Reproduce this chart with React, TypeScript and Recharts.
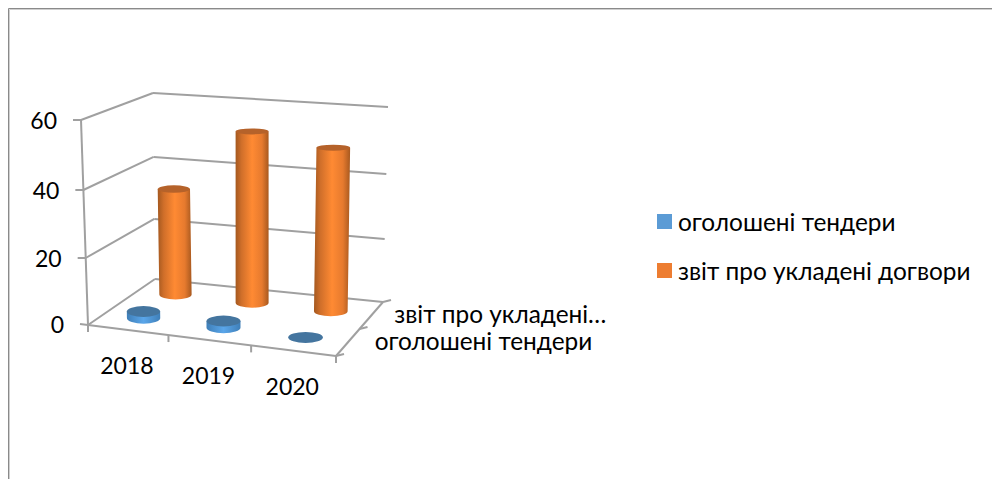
import React from "react";
import { BarChart, Bar, XAxis, YAxis, Legend, Customized } from "recharts";

const categories = ["2018", "2019", "2020"];
const tendersName = "оголошені тендери";
const reportsName = "звіт про укладені догвори";
const tenders = [2, 2, 0];
const reports = [33, 53, 50];
const valueTicks = [0, 20, 40, 60];
const depthLabels = ["оголошені тендери", "звіт про укладені…"];

const rows = categories.map((c, i) => ({ c, tenders: tenders[i], reports: reports[i] }));

const W = 992, H = 479;
const PLOT_L = 88, PLOT_R = 336, PLOT_T = 120, PLOT_B = 324;
const FONT = "Lato, 'Noto Sans', sans-serif";
const FS = 24.4;
const LINE = "#a0a0a0";

// floor corners of the 3D box
const FL = [88, 325], FR = [336, 356], BL = [155, 279], BR = [383, 302];
const lerp = (a: number, b: number, t: number) => a + (b - a) * t;
const floor = (u0: number, v: number) => {
  const u = u0 - 0.04 * u0 * (1 - u0);
  const fx = lerp(FL[0], FR[0], u), fy = lerp(FL[1], FR[1], u);
  const bx = lerp(BL[0], BR[0], u), by = lerp(BL[1], BR[1], u);
  return [lerp(fx, bx, v), lerp(fy, by, v)];
};
// vertical scale shrink with depth
const depthScale = (u: number, v: number) => lerp(1, lerp(0.912, 0.956, u), v);
const valuePx = (val: number) => ((PLOT_B - PLOT_T) * val) / 60;
const frontX = (val: number) => lerp(88, 81, val / 60);
const bow = (val: number) => (val / 60) * (1 - val / 60) * 9;

const Cylinder = (props: any) => {
  const { x, width, height, v, side, top, ry0 } = props;
  const u = (x + width / 2 - PLOT_L) / (PLOT_R - PLOT_L);
  const [cx, by] = floor(u, v);
  const h = (height || 0) * depthScale(u, v);
  const rx = (width / 2) * (1 + 0.06 * (u - 0.5) - 0.06 * (v - 0.25));
  const lean = (u - 0.5) * 0.046 * h;
  const tx = cx + lean, ty = by - h;
  const ryB = ry0, ryT = ry0 - 0.012 * h;
  const d = `M${cx - rx},${by} A${rx},${ryB} 0 0 0 ${cx + rx},${by} L${tx + rx},${ty} L${tx - rx},${ty} Z`;
  return (
    <g>
      {h > 0 && <path d={d} fill={`url(#${side})`} />}
      <ellipse cx={tx} cy={ty} rx={rx} ry={ryT} fill={top} />
    </g>
  );
};

const Walls = () => {
  const seg = (a: number[], b: number[], k: string) => (
    <line key={k} x1={a[0]} y1={a[1]} x2={b[0]} y2={b[1]} stroke={LINE} strokeWidth={2} />
  );
  const out: any[] = [];
  valueTicks.forEach((t) => {
    const dl = valuePx(t);
    const front = [frontX(t), PLOT_B + (t === 0 ? 1 : 0) - dl + bow(t)];
    const backL = [lerp(BL[0], 153, t / 60), BL[1] - dl * 0.912 + bow(t)];
    const backR = [lerp(BR[0], 388, t / 60), BR[1] - dl * 0.956 + bow(t)];
    out.push(seg(front, backL, `l${t}`));
    out.push(seg(backL, backR, `b${t}`));
    out.push(seg([front[0] - 8, front[1] - (t === 0 ? 1 : 0)], front, `t${t}`));
  });
  out.push(seg([81, PLOT_T], [88, 325], "axis"));
  out.push(seg(FL, FR, "front"));
  out.push(seg(FR, BR, "right"));
  [0, 1 / 3, 2 / 3, 1].forEach((u, i) => {
    const p = floor(u, 0);
    out.push(seg(p, [p[0], p[1] + 7], `x${i}`));
  });
  [0, 0.5, 1].forEach((v, i) => {
    const p = floor(1, v);
    out.push(seg(p, [p[0] + 8, p[1] - 2], `z${i}`));
  });
  return (
    <g>
      <path d={`M8.5,${H} V8.5 H${W}`} fill="none" stroke="#8a8a8a" strokeWidth={1} />
      <path d={`M9.5,${H} V9.5 H${W}`} fill="none" stroke="#cfcfcf" strokeWidth={1} />
      {out}
      {depthLabels.map((label, i) => {
        const p = floor(1, 0.25 + i * 0.5);
        return (
          <text key={label} x={p[0] + 27 - i * 4} y={p[1] + 7} fontFamily={FONT} fontSize={FS} fill="#000">
            {label}
          </text>
        );
      })}
    </g>
  );
};

const ValueTick = (props: any) => {
  const { y, payload } = props;
  const val = payload.value;
  return (
    <text x={frontX(val) - 24} y={y + 9 + bow(val)} textAnchor="end" fontFamily="Lato, sans-serif" fontSize={23} fill="#000">
      {val}
    </text>
  );
};

const CategoryTick = (props: any) => {
  const { x, payload } = props;
  const u = (x - PLOT_L) / (PLOT_R - PLOT_L);
  const p = floor(u, 0);
  return (
    <text x={p[0] - 1} y={p[1] + 44} textAnchor="middle" fontFamily="Lato, sans-serif" fontSize={23} fill="#000">
      {payload.value}
    </text>
  );
};

const LegendBox = (props: any) => (
  <div style={{ fontFamily: FONT, fontSize: FS, color: "#000" }}>
    {(props.payload || []).map((e: any) => (
      <div key={e.value} style={{ display: "flex", alignItems: "center", height: 49, whiteSpace: "nowrap" }}>
        <span style={{ display: "inline-block", width: 15, height: 15, background: e.color, marginRight: 6 }} />
        {e.value}
      </div>
    ))}
  </div>
);

export default function App() {
  return (
    <div style={{ position: "absolute", left: 0, top: 0, width: W, height: H, overflow: "hidden", background: "#fff" }}>
      <BarChart
        width={W}
        height={H}
        data={rows}
        barSize={34}
        barGap={-34}
        margin={{ top: PLOT_T, right: W - PLOT_R, bottom: 125, left: 0 }}
      >
        <defs>
          <linearGradient id="sideOrange" x1="0" x2="1" y1="0" y2="0">
            <stop offset="0" stopColor="#a4581f" />
            <stop offset="0.18" stopColor="#d06f2a" />
            <stop offset="0.5" stopColor="#ff8a33" />
            <stop offset="0.8" stopColor="#e67a2e" />
            <stop offset="1" stopColor="#a8591f" />
          </linearGradient>
          <linearGradient id="sideBlue" x1="0" x2="1" y1="0" y2="0">
            <stop offset="0" stopColor="#3f7fb8" />
            <stop offset="0.5" stopColor="#5aa6ea" />
            <stop offset="1" stopColor="#3f7fb8" />
          </linearGradient>
        </defs>
        <Customized component={Walls} />
        <XAxis dataKey="c" height={30} axisLine={false} tickLine={false} tick={<CategoryTick />} interval={0} />
        <YAxis width={88} domain={[0, 60]} ticks={valueTicks} axisLine={false} tickLine={false} tick={<ValueTick />} />
        <Legend
          layout="vertical"
          verticalAlign="middle"
          align="center"
          itemSorter={null}
          wrapperStyle={{ left: 657, top: 197, width: 330, bottom: "auto", right: "auto" }}
          content={<LegendBox />}
        />
        <Bar
          dataKey="tenders"
          name={tendersName}
          fill="#5B9BD5"
          isAnimationActive={false}
          shape={(p: any) => <Cylinder {...p} v={0.25} side="sideBlue" top="#44759f" ry0={5.5} />}
        />
        <Bar
          dataKey="reports"
          name={reportsName}
          fill="#ED7D31"
          isAnimationActive={false}
          shape={(p: any) => <Cylinder {...p} v={0.75} side="sideOrange" top="#b5622a" ry0={5} />}
        />
      </BarChart>
    </div>
  );
}
